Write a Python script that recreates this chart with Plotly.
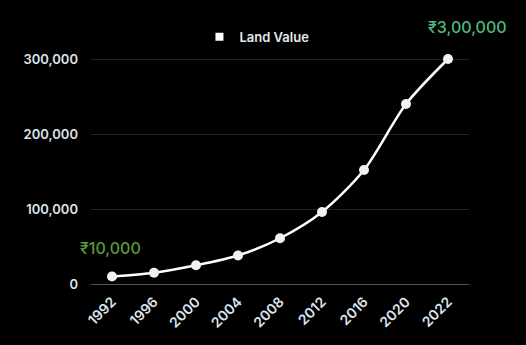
import plotly.graph_objects as go

years = ["1992", "1996", "2000", "2004", "2008", "2012", "2016", "2020", "2022"]
land_value = [10000, 15000, 25000, 38000, 61000, 96000, 152000, 240000, 300000]
y_ticks = [0, 100000, 200000, 300000]
y_tick_labels = ["0", "100,000", "200,000", "300,000"]
series_name = "Land Value"
start_label = "₹10,000"
end_label = "₹3,00,000"

FONT = "Inter"
W, H = 526, 345
m_l, m_r, m_t, m_b = 91, 57, 52, 61
plot_h = H - m_t - m_b
ymax = plot_h / 0.00075

fig = go.Figure()
fig.add_trace(go.Scatter(
    x=years, y=land_value, mode="lines+markers",
    line=dict(color="white", width=2.5, shape="spline", smoothing=0.8),
    marker=dict(color="#f2f2f2", size=10),
    showlegend=False, hoverinfo="skip",
))
fig.add_trace(go.Scatter(
    x=[None], y=[None], mode="markers", name=series_name,
    marker=dict(symbol="square", color="white", size=8),
))

fig.add_annotation(x=0, y=land_value[0], text=start_label, showarrow=False,
                   yshift=29, xshift=-2,
                   font=dict(family=FONT, size=16, color="#5a9a3a", weight=500))
fig.add_annotation(x=len(years) - 1, y=land_value[-1], text=end_label, showarrow=False,
                   yshift=32, xshift=19,
                   font=dict(family=FONT, size=16, color="#4dbb7e", weight=500))

fig.update_layout(
    width=W, height=H,
    margin=dict(l=m_l, r=m_r, t=m_t, b=m_b),
    paper_bgcolor="black", plot_bgcolor="black",
    font=dict(family=FONT, color="#dbe3ec"),
    legend=dict(orientation="h", x=0.439, xanchor="center", y=1.065, yanchor="middle",
                font=dict(family=FONT, size=13, color="#e6e9ee", weight=600),
                bgcolor="rgba(0,0,0,0)", itemwidth=30),
    xaxis=dict(type="category", range=[-0.5, 8.5], tickangle=-45, showgrid=False,
               showline=False, ticks="", tickfont=dict(family=FONT, size=14, color="#dbe3ec", weight=600),
               zeroline=False, ticklabelstandoff=6),
    yaxis=dict(range=[0, ymax], tickvals=y_ticks, ticktext=y_tick_labels,
               showgrid=True, gridcolor="#222222", gridwidth=1,
               zeroline=True, zerolinecolor="#555555", zerolinewidth=1,
               tickfont=dict(family=FONT, size=13, color="#dbe3ec", weight=600),
               ticks="", ticklabelstandoff=12, showline=False),
)

fig.write_html("out.html")
